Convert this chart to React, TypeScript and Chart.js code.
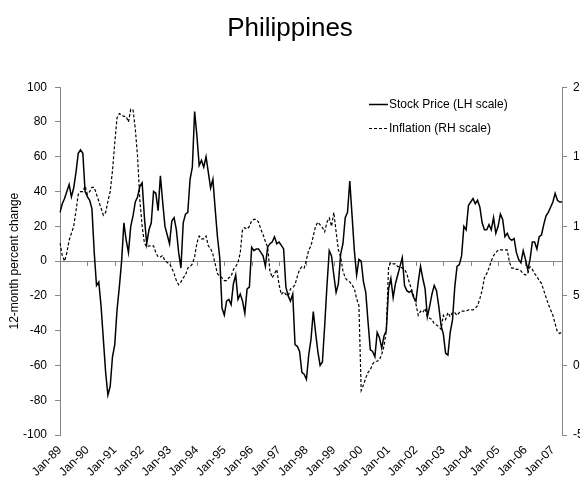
import React, { useEffect, useRef } from "react";
import { Chart, registerables } from "chart.js";

Chart.register(...registerables);

const TITLE = "Philippines";
const Y_TITLE = "12-month percent change";
const SERIES_NAMES = ["Stock Price (LH scale)", "Inflation (RH scale)"];
const MONTHS = ["Jan", "Feb", "Mar", "Apr", "May", "Jun", "Jul", "Aug", "Sep", "Oct", "Nov", "Dec"];
const FIRST_YEAR = 1989;

// Stock price, 12-month % change (left scale), monthly Jan-89 .. May-07
const stock1989 = [28, 33, 36, 40, 44, 37, 42, 51, 62, 64, 62, 40];
const stock1990 = [37, 35, 30, 5, -14, -12, -26, -45, -64, -77, -72, -55];
const stock1991 = [-48, -28, -15, 0, 22, 12, 5, 20, 26, 34, 37, 43];
const stock1992 = [45, 25, 10, 18, 22, 40, 39, 29, 49, 34, 20, 15];
const stock1993 = [10, 23, 25, 18, 5, -4, 22, 27, 28, 47, 54, 86];
const stock1994 = [72, 55, 58, 54, 60, 51, 42, 47, 30, 14, 2, -27];
const stock1995 = [-31, -23, -22, -25, -13, -8, -22, -19, -23, -30, -16, -15];
const stock1996 = [8, 6, 7, 7, 5, 3, -3, 8, 10, 11, 14, 10];
const stock1997 = [11, 9, 7, -15, -20, -23, -19, -48, -49, -52, -64, -65];
const stock1998 = [-68, -54, -45, -29, -41, -52, -60, -58, -37, -14, 6, 3];
const stock1999 = [-8, -18, -13, 4, 10, 25, 28, 46, 26, 6, -8, 1];
const stock2000 = [0, -12, -18, -35, -51, -52, -55, -41, -44, -50, -43, -40];
const stock2001 = [-16, -10, -21, -13, -8, -3, 2, -14, -17, -18, -17, -21];
const stock2002 = [-23, -12, -3, -10, -16, -32, -26, -19, -14, -17, -26, -37];
const stock2003 = [-42, -53, -54, -41, -34, -15, -3, -2, 3, 20, 18, 32];
const stock2004 = [34, 36, 33, 35, 31, 22, 18, 18, 21, 18, 25, 16];
const stock2005 = [20, 27, 24, 14, 16, 13, 12, 13, 5, 1, -1, 6];
const stock2006 = [1, -5, 1, 11, 11, 7, 14, 15, 21, 26, 28, 31];
const stock2007 = [34, 39, 35, 34, 34];

// Inflation, % (right scale)
const infl1989 = [8.8, 7.9, 7.5, 8.1, 9.0, 9.5, 10.0, 11.1, 12.3, 12.5, 12.5, 12.9];
const infl1990 = [12.3, 12.5, 12.8, 12.8, 12.3, 11.8, 11.3, 10.8, 11.0, 11.8, 12.5, 14.0];
const infl1991 = [16.0, 17.8, 18.1, 18.0, 17.9, 17.9, 17.5, 18.4, 18.4, 17.0, 15.0, 11.9];
const infl1992 = [10.0, 8.8, 8.5, 8.6, 8.6, 8.6, 8.1, 7.8, 7.8, 7.9, 7.5, 7.4];
const infl1993 = [7.3, 7.0, 6.6, 6.1, 5.8, 6.0, 6.3, 6.5, 7.0, 7.1, 7.3, 7.8];
const infl1994 = [8.8, 9.3, 9.1, 9.1, 9.3, 8.6, 8.4, 8.0, 7.3, 6.6, 6.4, 6.3];
const infl1995 = [6.1, 6.1, 6.3, 6.4, 6.9, 7.1, 7.4, 8.1, 9.8, 9.9, 9.8, 10.0];
const infl1996 = [10.4, 10.5, 10.5, 10.3, 9.8, 9.4, 8.9, 8.5, 6.8, 6.3, 6.6, 6.9];
const infl1997 = [5.8, 5.1, 5.3, 5.1, 5.0, 5.5, 5.6, 5.8, 6.4, 6.9, 7.1, 7.0];
const infl1998 = [7.6, 8.3, 8.6, 9.3, 10.0, 10.3, 10.1, 9.9, 9.6, 10.3, 10.6, 10.0];
const infl1999 = [11.0, 9.6, 8.3, 7.8, 6.8, 6.3, 6.1, 6.0, 5.8, 5.5, 4.8, 4.3];
const infl2000 = [-1.8, -1.4, -0.9, -0.5, -0.3, 0.1, 0.3, 0.3, 0.4, 0.8, 1.4, 2.5];
const infl2001 = [7.1, 7.4, 7.3, 7.3, 7.1, 7.1, 7.0, 6.9, 6.6, 6.0, 5.5, 5.0];
const infl2002 = [4.4, 3.6, 3.9, 3.8, 4.1, 3.5, 3.4, 3.3, 3.0, 2.9, 2.8, 2.6];
const infl2003 = [3.6, 3.3, 3.8, 3.5, 3.8, 3.8, 3.6, 3.8, 3.9, 3.9, 3.9, 4.0];
const infl2004 = [4.0, 4.0, 4.1, 4.3, 4.8, 5.4, 6.3, 6.6, 7.0, 7.5, 7.9, 8.1];
const infl2005 = [8.3, 8.3, 8.3, 8.3, 8.3, 7.4, 7.0, 7.0, 6.9, 6.9, 6.8, 6.6];
const infl2006 = [6.5, 6.6, 7.1, 6.9, 6.6, 6.4, 6.1, 5.9, 5.4, 4.9, 4.4, 4.0];
const infl2007 = [3.6, 3.0, 2.4, 2.3, 2.4];

const stockValues = [
  ...stock1989, ...stock1990, ...stock1991, ...stock1992, ...stock1993, ...stock1994,
  ...stock1995, ...stock1996, ...stock1997, ...stock1998, ...stock1999, ...stock2000,
  ...stock2001, ...stock2002, ...stock2003, ...stock2004, ...stock2005, ...stock2006, ...stock2007,
];
const inflationValues = [
  ...infl1989, ...infl1990, ...infl1991, ...infl1992, ...infl1993, ...infl1994,
  ...infl1995, ...infl1996, ...infl1997, ...infl1998, ...infl1999, ...infl2000,
  ...infl2001, ...infl2002, ...infl2003, ...infl2004, ...infl2005, ...infl2006, ...infl2007,
];

const categories = stockValues.map((_, i) => {
  const yr = (FIRST_YEAR + Math.floor(i / 12)) % 100;
  return `${MONTHS[i % 12]}-${String(yr).padStart(2, "0")}`;
});

const LEFT_MIN = -100, LEFT_MAX = 100, LEFT_STEP = 20;
const RIGHT_MIN = -5, RIGHT_MAX = 20, RIGHT_STEP = 5;

const FONT = "'Liberation Sans', Arial, sans-serif";
const AXIS_GRAY = "#868686";

const overlayPlugin = {
  id: "overlay",
  beforeDatasetsDraw(chart: any) {
    const { ctx, chartArea, scales } = chart;
    const y0 = scales.y.getPixelForValue(0);
    ctx.save();
    ctx.strokeStyle = AXIS_GRAY;
    ctx.lineWidth = 1;
    ctx.beginPath();
    ctx.moveTo(chartArea.left, Math.round(y0) + 0.5);
    ctx.lineTo(chartArea.right, Math.round(y0) + 0.5);
    for (let i = 0; i < categories.length; i += 12) {
      const x = Math.round(scales.x.getPixelForValue(i)) + 0.5;
      ctx.moveTo(x, Math.round(y0));
      ctx.lineTo(x, Math.round(y0) + 5);
    }
    ctx.stroke();
    ctx.restore();
  },
  afterDraw(chart: any) {
    const { ctx } = chart;
    ctx.save();
    ctx.strokeStyle = "#000";
    ctx.fillStyle = "#000";
    ctx.font = `12px ${FONT}`;
    ctx.textBaseline = "middle";
    ctx.textAlign = "left";
    const rows = [
      { y: 104, dash: [] as number[], w: 1.5 },
      { y: 128, dash: [3, 2], w: 1.2 },
    ];
    rows.forEach((r, i) => {
      ctx.lineWidth = r.w;
      ctx.setLineDash(r.dash);
      ctx.beginPath();
      ctx.moveTo(369, r.y + 0.5);
      ctx.lineTo(388, r.y + 0.5);
      ctx.stroke();
      ctx.setLineDash([]);
      ctx.fillText(SERIES_NAMES[i], 389, r.y + 1);
    });
    ctx.restore();
  },
};

export default function App() {
  const ref = useRef<HTMLCanvasElement | null>(null);
  useEffect(() => {
    if (!ref.current) return;
    const chart = new Chart(ref.current, {
      type: "line",
      data: {
        labels: categories,
        datasets: [
          {
            label: SERIES_NAMES[0],
            data: stockValues,
            yAxisID: "y",
            borderColor: "#000",
            borderWidth: 1.5,
            pointRadius: 0,
            tension: 0,
            fill: false,
          },
          {
            label: SERIES_NAMES[1],
            data: inflationValues,
            yAxisID: "y1",
            borderColor: "#000",
            borderWidth: 1.2,
            borderDash: [3, 2],
            pointRadius: 0,
            tension: 0,
            fill: false,
          },
        ],
      },
      options: {
        responsive: false,
        animation: false,
        devicePixelRatio: 1,
        layout: { padding: 0 },
        plugins: {
          legend: { display: false },
          tooltip: { enabled: false },
          title: {
            display: true,
            text: TITLE,
            color: "#000",
            font: { family: FONT, size: 26, weight: "normal" },
            padding: { top: 13, bottom: 43 },
          },
        },
        scales: {
          x: {
            type: "category",
            offset: false,
            grid: { display: false, drawTicks: false },
            border: { display: false },
            afterFit: (s: any) => { s.height = 51; },
            ticks: {
              autoSkip: false,
              minRotation: 45,
              maxRotation: 45,
              padding: 8,
              color: "#000",
              font: { family: FONT, size: 12 },
              callback: (_v: any, i: number) => (i % 12 === 0 ? categories[i] : null),
            },
          },
          y: {
            position: "left",
            min: LEFT_MIN,
            max: LEFT_MAX,
            afterFit: (s: any) => { s.width = 60; },
            grid: { drawOnChartArea: false, drawTicks: true, tickLength: 5, color: AXIS_GRAY },
            border: { display: true, color: AXIS_GRAY },
            ticks: { stepSize: LEFT_STEP, padding: 8, color: "#000", font: { family: FONT, size: 12 } },
            title: {
              display: true,
              text: Y_TITLE,
              color: "#000",
              font: { family: FONT, size: 12 },
              padding: { top: 7, bottom: 0 },
            },
          },
          y1: {
            position: "right",
            min: RIGHT_MIN,
            max: RIGHT_MAX,
            afterFit: (s: any) => { s.width = 18; },
            grid: { drawOnChartArea: false, drawTicks: true, tickLength: 5, color: AXIS_GRAY },
            border: { display: true, color: AXIS_GRAY },
            ticks: { stepSize: RIGHT_STEP, padding: 6, color: "#000", font: { family: FONT, size: 12 } },
          },
        },
      },
      plugins: [overlayPlugin],
    });
    return () => chart.destroy();
  }, []);
  return (
    <div style={{ position: "fixed", left: 0, top: 0, width: 580, height: 486, overflow: "hidden", background: "#fff" }}>
      <canvas ref={ref} width={580} height={486} style={{ display: "block" }} />
    </div>
  );
}
